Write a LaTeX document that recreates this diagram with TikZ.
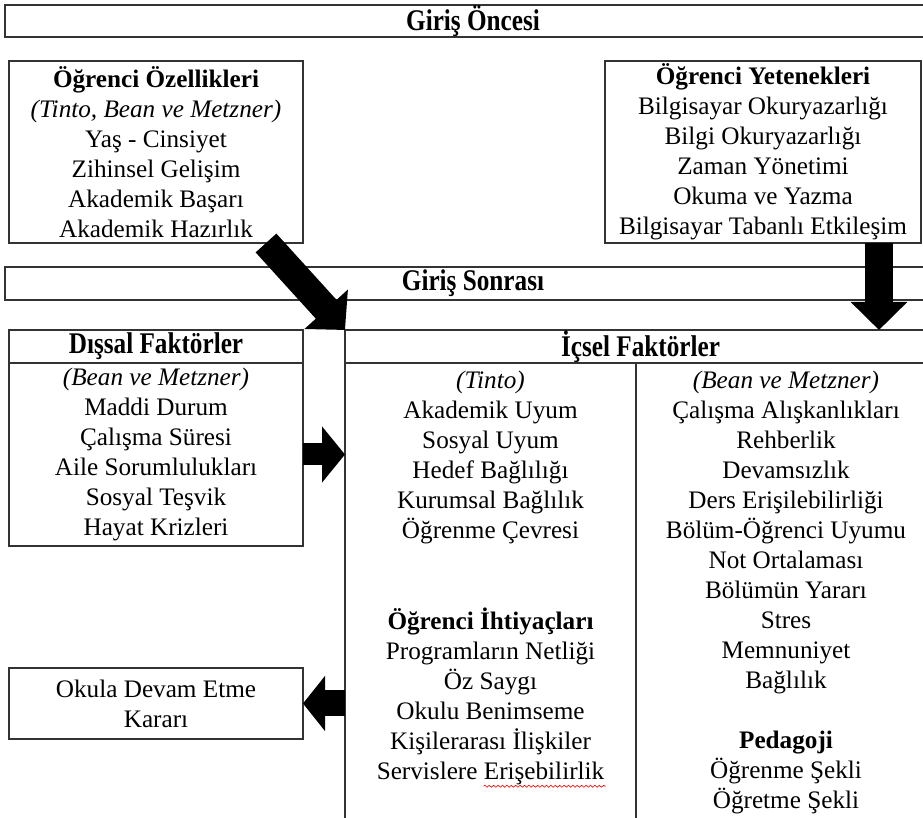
\documentclass[tikz,border=0pt]{standalone}
\usepackage{fontspec}
\setmainfont{Liberation Serif}
\newfontfamily\headfont[FakeStretch=0.84]{Liberation Serif}
\usetikzlibrary{arrows.meta,calc,decorations.pathmorphing}

\tikzset{
  box/.style={draw=black!80, line width=0.6pt, inner sep=0pt, outer sep=0pt},
  txt/.style={align=center, inner sep=0pt, font=\fontsize{12.6}{15}\selectfont},
  head/.style={font=\headfont\bfseries\fontsize{15}{16}\selectfont},
  barrow/.style n args={3}{draw=black, line width=#1, -{Triangle[width=#2, length=#3]}},
  spellmark/.style={draw=red, line width=0.3pt, decorate,
    decoration={snake, amplitude=0.5pt, segment length=2.2pt}},
}

\begin{document}
\begin{tikzpicture}[x=0.5pt, y=-0.5pt]
\useasboundingbox (0,0) rectangle (923,818);
\clip (0,0) rectangle (923,818);

% phase bars
\node[box, head, minimum width=468pt, minimum height=16pt] (pre) at (473,21) {Giriş Öncesi};
\node[box, head, minimum width=468pt, minimum height=16.5pt] (post) at (473,283.5) {Giriş Sonrası};

% before entry
\node[box, txt, minimum width=147pt, minimum height=91pt] (ozel) at (156,152)
  {\textbf{Öğrenci Özellikleri}\\ \textit{(Tinto, Bean ve Metzner)}\\ Yaş - Cinsiyet\\ Zihinsel Gelişim\\ Akademik Başarı\\ Akademik Hazırlık};
\node[box, txt, minimum width=158pt, minimum height=91pt] (yet) at (763,152)
  {\textbf{Öğrenci Yetenekleri}\\ Bilgisayar Okuryazarlığı\\ Bilgi Okuryazarlığı\\ Zaman Yönetimi\\ Okuma ve Yazma\\ Bilgisayar Tabanlı Etkileşim};

% external factors
\node[box, head, minimum width=147pt, minimum height=16.5pt] (dishead) at (156,346.5) {Dışsal Faktörler};
\node[box, txt, minimum width=147pt, minimum height=91.5pt] (disbody) at (156,454.5)
  {\textit{(Bean ve Metzner)}\\ Maddi Durum\\ Çalışma Süresi\\ Aile Sorumlulukları\\ Sosyal Teşvik\\ Hayat Krizleri};

% internal factors
\node[box, head, minimum width=295.5pt, minimum height=16.5pt] (ichead) at (640.5,346.5) {İçsel Faktörler};
\node[box, anchor=north west, minimum width=145.5pt, minimum height=240pt] (lcol) at (345,363) {};
\node[box, anchor=north west, minimum width=150pt, minimum height=240pt] (rcol) at (636,363) {};

\node[txt, anchor=north] (tinto) at (490.5,367.5)
  {\strut\textit{(Tinto)}\\ Akademik Uyum\\ Sosyal Uyum\\ Hedef Bağlılığı\\ Kurumsal Bağlılık\\ Öğrenme Çevresi};
\node[txt, anchor=north] (needs) at (490.5,607.5)
  {\strut\textbf{Öğrenci İhtiyaçları}\\ Programların Netliği\\ Öz Saygı\\ Okulu Benimseme\\ Kişilerarası İlişkiler\\ Servislere Erişebilirlik};
\node[txt, anchor=north] (beanm) at (786,367.5)
  {\strut\textit{(Bean ve Metzner)}\\ Çalışma Alışkanlıkları\\ Rehberlik\\ Devamsızlık\\ Ders Erişilebilirliği\\ Bölüm-Öğrenci Uyumu\\ Not Ortalaması\\ Bölümün Yararı\\ Stres\\ Memnuniyet\\ Bağlılık};
\node[txt, anchor=north] (ped) at (786,727.5)
  {\strut\textbf{Pedagoji}\\ Öğrenme Şekli\\ Öğretme Şekli};

% spell-check underline below the last word of the needs list
\draw[spellmark] ($(needs.south)+(-7,1)$) -- ($(needs.south)+(115,1)$);

% decision
\node[box, txt, minimum width=147pt, minimum height=35.5pt] (okula) at (156,703.5)
  {Okula Devam Etme\\ Kararı};

% block arrows
\coordinate (dx) at (879,0);
\draw[barrow={14pt}{28.5pt}{14pt}] ($(ozel.south east)+(-37,0)$) -- (ichead.north west);
\draw[barrow={14pt}{27.5pt}{14pt}] (yet.south -| dx) -- (ichead.north -| dx);
\draw[barrow={11pt}{27.5pt}{11.5pt}] (disbody.east) -- (disbody.east -| lcol.west);
\draw[barrow={13pt}{27pt}{11pt}] (okula.east -| lcol.west) -- (okula.east);
\end{tikzpicture}
\end{document}
